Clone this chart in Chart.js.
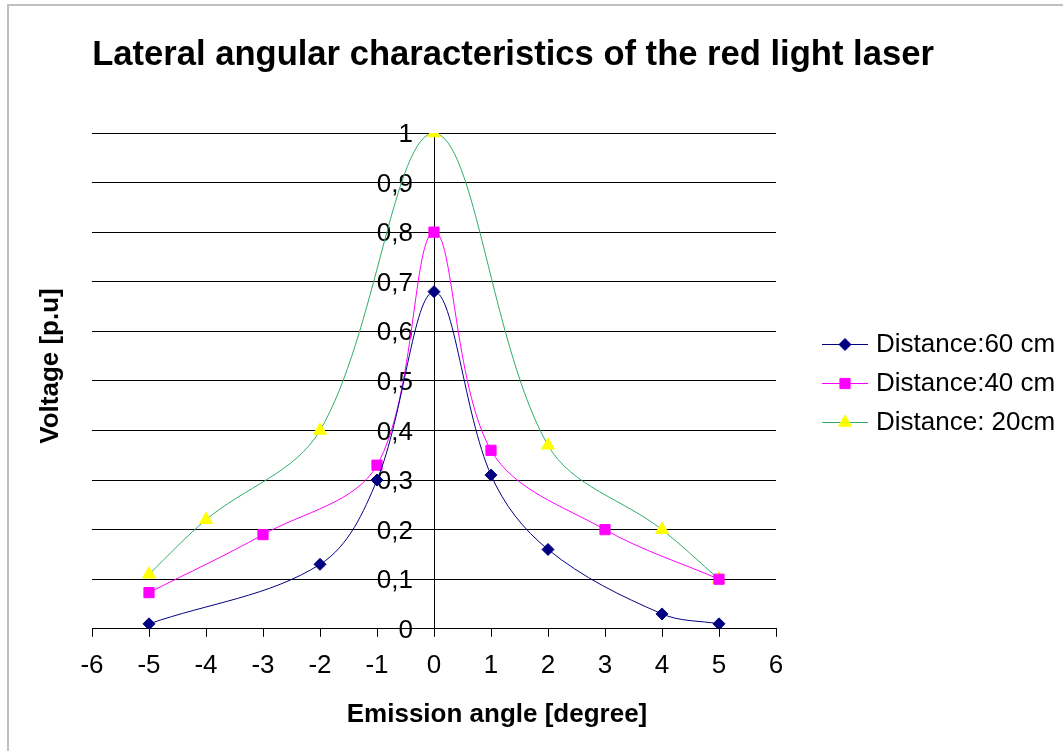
<!DOCTYPE html>
<html><head><meta charset="utf-8">
<script src="https://cdn.jsdelivr.net/npm/chart.js@4/dist/chart.umd.min.js"></script>
<style>
html,body{margin:0;padding:0;background:#fff;}
#wrap{position:relative;width:1063px;height:751px;overflow:hidden;background:#fff;}
#frame{position:absolute;left:7px;top:4px;width:1100px;height:800px;border-left:2px solid #c0c0c0;border-top:2px solid #c0c0c0;}
canvas{position:absolute;left:0;top:0;}
</style></head><body>
<div id="wrap"><div id="frame"></div><canvas id="c" width="1063" height="751"></canvas></div>
<script>
// ---- data ----
const angles60 = [-5, -2, -1, 0, 1, 2, 4, 5];
const volt60   = [0.01, 0.13, 0.30, 0.68, 0.31, 0.16, 0.03, 0.01];
const angles40 = [-5, -3, -1, 0, 1, 3, 5];
const volt40   = [0.073, 0.19, 0.33, 0.80, 0.36, 0.20, 0.10];
const angles20 = [-5, -4, -2, 0, 2, 4, 5];
const volt20   = [0.11, 0.22, 0.40, 1.00, 0.37, 0.20, 0.10];
const seriesNames = ['Distance:60 cm', 'Distance:40 cm', 'Distance: 20cm'];
const xTickLabels = ['-6','-5','-4','-3','-2','-1','0','1','2','3','4','5','6'];
const yTickLabels = ['0','0,1','0,2','0,3','0,4','0,5','0,6','0,7','0,8','0,9','1'];
const chartTitle = 'Lateral angular characteristics of the red light laser';
const xTitle = 'Emission angle [degree]';
const yTitle = 'Voltage [p.u]';

const FONT = '"Liberation Sans", Arial, Helvetica, sans-serif';

function pts(xs, ys){ return xs.map((x,i)=>({x:x, y:ys[i]})); }

const styles = [
  {line:'#000080', fill:'#000080', stroke:'#000080', pointStyle:'rectRot', radius:6},
  {line:'#ff00ff', fill:'#ff00ff', stroke:'#ff00ff', pointStyle:'rect', radius:7.2},
  {line:'#2fae68', fill:'#ffff00', stroke:'#ffff00', pointStyle:'triangle', radius:7.5}
];
const seriesData = [pts(angles60, volt60), pts(angles40, volt40), pts(angles20, volt20)];

const datasets = seriesData.map((d,i)=>({
  label: seriesNames[i],
  data: d,
  borderColor: styles[i].line,
  borderWidth: 1,
  backgroundColor: styles[i].fill,
  pointBackgroundColor: styles[i].fill,
  pointBorderColor: styles[i].stroke,
  pointBorderWidth: 1,
  pointStyle: styles[i].pointStyle,
  pointRadius: styles[i].radius,
  pointHoverRadius: styles[i].radius,
  tension: 0.35,
  fill: false
}));

function drawMarker(ctx, st, x, y){
  ctx.fillStyle = st.fill; ctx.strokeStyle = st.stroke; ctx.lineWidth = 1;
  if (Chart.helpers && Chart.helpers.drawPoint) {
    Chart.helpers.drawPoint(ctx, {pointStyle: st.pointStyle, radius: st.radius, rotation: 0, borderWidth: 1}, x, y);
    return;
  }
  const r = st.radius;
  ctx.beginPath();
  if (st.pointStyle === 'rectRot') { ctx.moveTo(x-r,y); ctx.lineTo(x,y-r); ctx.lineTo(x+r,y); ctx.lineTo(x,y+r); }
  else if (st.pointStyle === 'rect') { const s=r*Math.SQRT1_2; ctx.rect(x-s,y-s,2*s,2*s); }
  else { ctx.moveTo(x,y-r); ctx.lineTo(x+r*0.866,y+r*0.5); ctx.lineTo(x-r*0.866,y+r*0.5); }
  ctx.closePath(); ctx.fill(); ctx.stroke();
}

const textPlugin = {
  id: 'texts',
  afterDraw(chart){
    const ctx = chart.ctx;
    ctx.save();
    ctx.fillStyle = '#000';
    ctx.textAlign = 'center';
    ctx.textBaseline = 'middle';
    ctx.font = 'bold 34.6px ' + FONT;
    ctx.fillText(chartTitle, 513, 55);
    ctx.font = 'bold 26px ' + FONT;
    ctx.fillText(xTitle, 497, 715);
    ctx.save();
    ctx.translate(51, 366);
    ctx.rotate(-Math.PI/2);
    ctx.fillText(yTitle, 0, 0);
    ctx.restore();
    // legend
    ctx.font = '26px ' + FONT;
    ctx.textAlign = 'left';
    for (let i = 0; i < seriesNames.length; i++) {
      const y = 344 + 39*i;
      ctx.strokeStyle = styles[i].line; ctx.lineWidth = 1;
      ctx.beginPath(); ctx.moveTo(822, y+0.5); ctx.lineTo(868, y+0.5); ctx.stroke();
      drawMarker(ctx, styles[i], 845, y+0.5);
      ctx.fillStyle = '#000';
      ctx.fillText(seriesNames[i], 876, y+1);
    }
    ctx.restore();
  }
};

new Chart(document.getElementById('c'), {
  type: 'line',
  data: { datasets: datasets },
  plugins: [textPlugin],
  options: {
    responsive: false,
    animation: false,
    devicePixelRatio: 1,
    layout: { padding: { left: 92, right: 287, top: 133, bottom: 57 } },
    plugins: { legend: { display: false }, title: { display: false }, tooltip: { enabled: false } },
    scales: {
      x: {
        type: 'linear', position: 'bottom', min: -6, max: 6,
        ticks: { stepSize: 1, color: '#000', font: { size: 26, family: FONT }, padding: 13,
                 maxRotation: 0, autoSkip: false,
                 callback: (v, i) => xTickLabels[i] },
        grid: { drawOnChartArea: true, drawTicks: true, tickLength: 8, lineWidth: 1, tickColor: '#000',
                color: (c) => (c.tick && c.tick.value === 0) ? '#000' : 'rgba(0,0,0,0)' },
        border: { color: '#000', width: 1 }
      },
      y: {
        type: 'linear', position: { x: -0.37 }, min: 0, max: 1,
        ticks: { stepSize: 0.1, color: '#000', font: { size: 26, family: FONT }, labelOffset: 2,
                 callback: (v, i) => yTickLabels[i] },
        grid: { color: '#000', lineWidth: 1, drawTicks: false },
        border: { display: false }
      }
    }
  }
});
</script>
</body></html>
